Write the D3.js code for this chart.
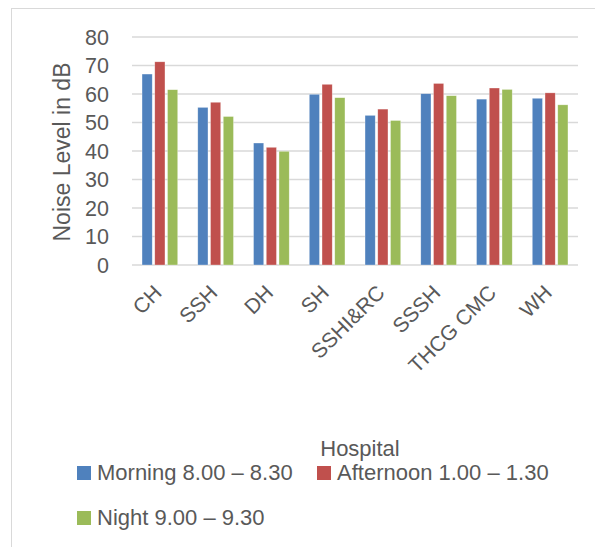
<!DOCTYPE html>
<html>
<head>
<meta charset="utf-8">
<script src="https://cdn.jsdelivr.net/npm/d3@7"></script>
<style>
  html, body { margin: 0; padding: 0; background: #fff; }
  svg { display: block; }
  text { font-family: "Liberation Sans", Arial, sans-serif; fill: #595959; }
</style>
</head>
<body>
<svg id="chart" width="595" height="547"></svg>
<script>
// Noise level per hospital, three measurement periods
const hospitals = ["CH", "SSH", "DH", "SH", "SSHI&RC", "SSSH", "THCG CMC", "WH"];
const morning   = [67.0, 55.3, 42.8, 59.9, 52.5, 60.1, 58.2, 58.5];
const afternoon = [71.3, 57.1, 41.3, 63.4, 54.7, 63.7, 62.1, 60.4];
const night     = [61.5, 52.1, 39.9, 58.7, 50.7, 59.4, 61.6, 56.2];
const seriesNames = ["Morning 8.00 \u2013 8.30", "Afternoon 1.00 \u2013 1.30", "Night 9.00 \u2013 9.30"];
const seriesColors = ["#4F81BD", "#C0504D", "#9BBB59"];
const yTicks = [0, 10, 20, 30, 40, 50, 60, 70, 80];

const series = [morning, afternoon, night];
const svg = d3.select("#chart");
const fontSize = 21;

// chart frame
svg.append("rect")
  .attr("x", 11.5).attr("y", 8.5)
  .attr("width", 600).attr("height", 600)
  .attr("fill", "none").attr("stroke", "#D9D9D9").attr("stroke-width", 1);

const plot = { left: 132, right: 578, top: 37, bottom: 265 };

const y = d3.scaleLinear().domain([0, 80]).range([plot.bottom, plot.top]);
const x0 = d3.scaleBand().domain(hospitals).range([plot.left, plot.right])
  .paddingInner(0.36).paddingOuter(0.18);
const x1 = d3.scaleBand().domain(d3.range(series.length)).range([0, x0.bandwidth()])
  .paddingInner(0.2);

// gridlines
svg.append("g").selectAll("line").data(yTicks).join("line")
  .attr("x1", plot.left).attr("x2", plot.right)
  .attr("y1", d => y(d)).attr("y2", d => y(d))
  .attr("stroke", "#D9D9D9").attr("stroke-width", 1.5);

// y tick labels
svg.append("g").selectAll("text").data(yTicks).join("text")
  .attr("x", 109).attr("y", d => y(d))
  .attr("dy", "0.36em")
  .attr("text-anchor", "end")
  .attr("font-size", 21.5)
  .text(d => d);

// y axis title
svg.append("text")
  .attr("transform", `translate(70,${(plot.top + plot.bottom) / 2 + 1}) rotate(-90)`)
  .attr("text-anchor", "middle")
  .attr("font-size", 23)
  .text("Noise Level in dB");

// bars
const groups = svg.append("g").selectAll("g").data(hospitals).join("g")
  .attr("transform", d => `translate(${x0(d)},0)`);
groups.selectAll("rect")
  .data((d, i) => series.map((s, k) => ({ k, v: s[i] })))
  .join("rect")
  .attr("x", d => x1(d.k))
  .attr("width", x1.bandwidth())
  .attr("y", d => y(d.v))
  .attr("height", d => y(0) - y(d.v))
  .attr("fill", d => seriesColors[d.k])
  .attr("stroke", "#fff").attr("stroke-opacity", 0.5).attr("stroke-width", 0.6);

// x tick labels, rotated
svg.append("g").selectAll("text").data(hospitals).join("text")
  .attr("transform", d => `translate(${x0(d) + x0.bandwidth() / 2 + 3},${plot.bottom + 29}) rotate(-45)`)
  .attr("text-anchor", "end")
  .attr("font-size", fontSize)
  .text(d => d);

// legend
svg.append("text")
  .attr("x", 360).attr("y", 456)
  .attr("text-anchor", "middle")
  .attr("font-size", 22)
  .text("Hospital");

const legendPos = [[77, 466], [317, 466], [77, 511]];
const legend = svg.append("g").selectAll("g").data(seriesNames).join("g")
  .attr("transform", (d, i) => `translate(${legendPos[i][0]},${legendPos[i][1]})`);
legend.append("rect")
  .attr("width", 14).attr("height", 14)
  .attr("fill", (d, i) => seriesColors[i]);
legend.append("text")
  .attr("x", 20).attr("y", 14)
  .attr("font-size", 22)
  .text(d => d);
</script>
</body>
</html>
